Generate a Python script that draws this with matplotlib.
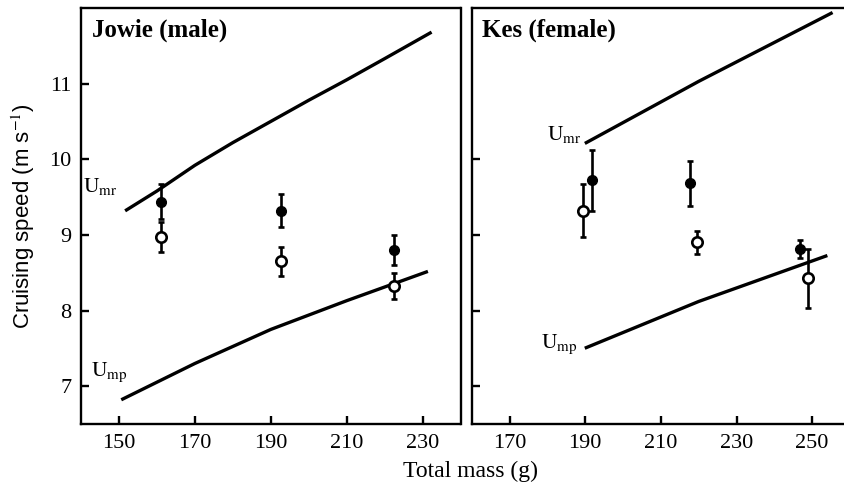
import matplotlib
matplotlib.use("Agg")
import matplotlib.pyplot as plt

plt.rcParams['font.family'] = ['Liberation Serif', 'DejaVu Serif']
plt.rcParams['mathtext.fontset'] = 'stix'

# Jowie (male)
j_mr_mass = [152, 160, 170, 180, 190, 200, 210, 220, 232]
j_mr_speed = [9.33, 9.58, 9.92, 10.22, 10.50, 10.78, 11.05, 11.33, 11.67]
j_mp_mass = [151, 170, 190, 210, 231]
j_mp_speed = [6.83, 7.30, 7.75, 8.13, 8.51]
j_mass = [161.2, 192.6, 222.5]
j_filled = [9.44, 9.32, 8.80]
j_filled_err = [0.23, 0.22, 0.20]
j_open = [8.97, 8.65, 8.32]
j_open_err = [0.20, 0.19, 0.17]

# Kes (female)
k_mr_mass = [190.3, 220, 255]
k_mr_speed = [10.22, 11.03, 11.93]
k_mp_mass = [190.3, 220, 253.6]
k_mp_speed = [7.51, 8.12, 8.72]
k_filled_mass = [191.8, 217.6, 246.7]
k_filled = [9.72, 9.68, 8.81]
k_filled_err = [0.40, 0.30, 0.12]
k_open_mass = [189.4, 219.6, 248.8]
k_open = [9.32, 8.90, 8.43]
k_open_err = [0.35, 0.15, 0.39]

W, H = 844, 492
fig = plt.figure(figsize=(W / 100, H / 100), dpi=100)
ax1 = fig.add_axes([81 / W, (H - 424) / H, (460.5 - 81) / W, (424 - 8) / H])
ax2 = fig.add_axes([471.7 / W, (H - 424) / H, (850 - 471.7) / W, (424 - 8) / H])

def style(ax):
    for s in ax.spines.values():
        s.set_linewidth(1.7)
    ax.tick_params(direction='in', length=6, width=1.7, labelsize=16, pad=7)
    ax.set_ylim(6.5, 12)

def points(ax, xf, yf, ef, xo, yo, eo):
    ax.errorbar(xf, yf, yerr=ef, fmt='o', color='black', ms=7,
                elinewidth=1.9, capsize=2.5, capthick=1.9, zorder=3)
    ax.errorbar(xo, yo, yerr=eo, fmt='o', color='black', mfc='white',
                mec='black', mew=1.9, ms=7.5,
                elinewidth=1.9, capsize=2.5, capthick=1.9, zorder=4)

style(ax1)
ax1.set_xlim(140, 240)
ax1.set_xticks([150, 170, 190, 210, 230])
ax1.set_yticks([7, 8, 9, 10, 11])
ax1.plot(j_mr_mass, j_mr_speed, color='black', lw=2.4)
ax1.plot(j_mp_mass, j_mp_speed, color='black', lw=2.4)
points(ax1, j_mass, j_filled, j_filled_err, j_mass, j_open, j_open_err)
ax1.text(149.7, 9.57, r'$\mathrm{U_{mr}}$', fontsize=15.5, ha='right', va='baseline')
ax1.text(152.4, 7.14, r'$\mathrm{U_{mp}}$', fontsize=15.5, ha='right', va='baseline')
ax1.text(0.028, 0.975, 'Jowie (male)', transform=ax1.transAxes, fontsize=18,
         fontweight='bold', ha='left', va='top')
ax1.set_ylabel('Cruising speed (m s$^{-1}$)', family='Liberation Sans',
               fontsize=16, labelpad=9)

style(ax2)
ax2.set_xlim(160, 260)
ax2.set_xticks([170, 190, 210, 230, 250])
ax2.set_yticks([7, 8, 9, 10])
ax2.set_yticklabels([])
ax2.spines['right'].set_visible(False)
ax2.plot(k_mr_mass, k_mr_speed, color='black', lw=2.4)
ax2.plot(k_mp_mass, k_mp_speed, color='black', lw=2.4)
points(ax2, k_filled_mass, k_filled, k_filled_err, k_open_mass, k_open, k_open_err)
ax2.text(189.0, 10.25, r'$\mathrm{U_{mr}}$', fontsize=15.5, ha='right', va='baseline')
ax2.text(188.1, 7.51, r'$\mathrm{U_{mp}}$', fontsize=15.5, ha='right', va='baseline')
ax2.text(0.028, 0.975, 'Kes (female)', transform=ax2.transAxes, fontsize=18,
         fontweight='bold', ha='left', va='top')

fig.text(471 / W, 1 - 471 / H, 'Total mass (g)', fontsize=17, ha='center', va='center')

fig.savefig('out.png', dpi=100)
